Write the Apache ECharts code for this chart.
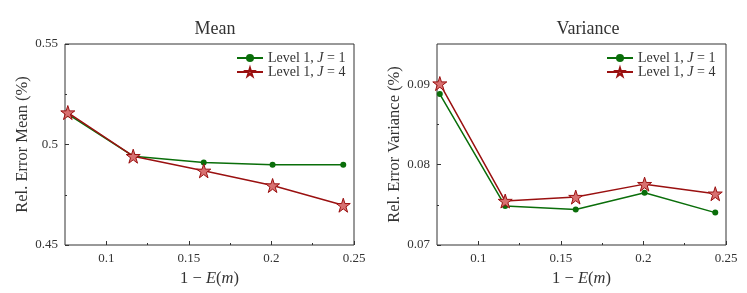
<!DOCTYPE html>
<html><head><meta charset="utf-8">
<script src="https://cdn.jsdelivr.net/npm/echarts@6/dist/echarts.min.js"></script>
<style>html,body{margin:0;padding:0;background:#fff}#c{width:747px;height:293px}</style>
</head><body><div id="c"></div>
<script>
const xVals = [0.0767, 0.1163, 0.159, 0.2007, 0.2435];
const meanJ1 = [0.5151, 0.4942, 0.4910, 0.4899, 0.4899];
const meanJ4 = [0.5159, 0.4942, 0.4869, 0.4796, 0.4698];
const varJ1 = [0.08877, 0.07485, 0.07441, 0.07650, 0.07403];
const varJ4 = [0.09008, 0.07547, 0.07596, 0.07757, 0.07638];
const xTicks = [0.1, 0.15, 0.2, 0.25];
const xMinor = [0.125, 0.175, 0.225];
const meanTicks = [0.45, 0.5, 0.55];
const meanMinor = [0.475, 0.525];
const varTicks = [0.07, 0.08, 0.09];
const varMinor = [0.075, 0.085];
const titles = ['Mean', 'Variance'];
const yNames = ['Rel. Error Mean (%)', 'Rel. Error Variance (%)'];
const nameJ1 = 'Level 1, {i|J} = 1';
const nameJ4 = 'Level 1, {i|J} = 4';

const FONT = 'Liberation Serif';
const GREEN = '#0a6e0a';
const RED = '#9a1010';
const STAR = 'path://M50,0 L61.2,34.5 L97.6,34.5 L68.2,55.9 L79.4,90.5 L50,69.1 L20.6,90.5 L31.8,55.9 L2.4,34.5 L38.8,34.5 Z';
const fmt = v => String(+(+v).toFixed(4));
const rich = {i: {fontStyle: 'italic', fontFamily: FONT, fontSize: 14, color: '#333'}};

const grids = [
  {left: 65, top: 44, width: 289, height: 201},
  {left: 437, top: 44, width: 289, height: 201}
];
const yCfg = [
  {min: 0.45, max: 0.55, ticks: meanTicks, minor: meanMinor},
  {min: 0.07, max: 0.095, ticks: varTicks, minor: varMinor}
];
const xAxis = [], yAxis = [], series = [];
grids.forEach((g, gi) => {
  g.show = true; g.borderColor = '#333'; g.borderWidth = 1;
  xAxis.push({
    type: 'value', gridIndex: gi, min: 0.075, max: 0.25, position: 'bottom',
    axisLine: {show: false},
    splitLine: {show: false},
    axisTick: {show: true, inside: true, length: 4, customValues: xTicks, lineStyle: {color: '#333'}},
    axisLabel: {customValues: xTicks, formatter: fmt, fontFamily: FONT, fontSize: 13, color: '#333', margin: 7},
    name: '{n|1 − }{i|E}{n|(}{i|m}{n|)}', nameLocation: 'middle', nameGap: 21,
    nameTextStyle: {rich: {n: {fontFamily: FONT, fontSize: 16.5, color: '#333'}, i: {fontFamily: FONT, fontStyle: 'italic', fontSize: 16.5, color: '#333'}}}
  });
  xAxis.push({
    type: 'value', gridIndex: gi, min: 0.075, max: 0.25, position: 'bottom',
    axisLine: {show: false}, splitLine: {show: false},
    axisTick: {show: true, inside: true, length: 2, customValues: xMinor, lineStyle: {color: '#333'}},
    axisLabel: {show: false}
  });
  const yc = yCfg[gi];
  yAxis.push({
    type: 'value', gridIndex: gi, min: yc.min, max: yc.max, position: 'left',
    axisLine: {show: false}, splitLine: {show: false},
    axisTick: {show: true, inside: true, length: 4, customValues: yc.ticks, lineStyle: {color: '#333'}},
    axisLabel: {customValues: yc.ticks, formatter: fmt, fontFamily: FONT, fontSize: 13, color: '#333', margin: 7},
    name: yNames[gi], nameLocation: 'middle', nameGap: 34,
    nameTextStyle: {fontFamily: FONT, fontSize: 16.5, color: '#333'}
  });
  yAxis.push({
    type: 'value', gridIndex: gi, min: yc.min, max: yc.max, position: 'left',
    axisLine: {show: false}, splitLine: {show: false},
    axisTick: {show: true, inside: true, length: 2, customValues: yc.minor, lineStyle: {color: '#333'}},
    axisLabel: {show: false}
  });
  const d1 = gi === 0 ? meanJ1 : varJ1;
  const d4 = gi === 0 ? meanJ4 : varJ4;
  series.push({
    type: 'line', name: nameJ1, xAxisIndex: gi * 2, yAxisIndex: gi * 2,
    data: xVals.map((x, i) => [x, d1[i]]),
    symbol: 'circle', symbolSize: 6, lineStyle: {color: GREEN, width: 1.5},
    itemStyle: {color: GREEN}, z: 3
  });
  series.push({
    type: 'line', name: nameJ4, xAxisIndex: gi * 2, yAxisIndex: gi * 2,
    data: xVals.map((x, i) => [x, d4[i]]),
    symbol: STAR, symbolSize: 14, lineStyle: {color: RED, width: 1.5},
    itemStyle: {color: '#d87070', borderColor: RED, borderWidth: 1}, z: 4
  });
});

const legendBase = {
  orient: 'vertical', itemWidth: 26, itemHeight: 10, itemGap: 0,
  data: [nameJ1, nameJ4], selectedMode: false,
  textStyle: {fontFamily: FONT, fontSize: 14, color: '#333', rich: rich}
};
const chart = echarts.init(document.getElementById('c'), null, {renderer: 'canvas'});
chart.setOption({
  animation: false,
  backgroundColor: '#fff',
  title: [
    {text: titles[0], left: 210, top: 15, textAlign: 'center', textStyle: {fontFamily: FONT, fontSize: 18, fontWeight: 'normal', color: '#333'}},
    {text: titles[1], left: 583, top: 15, textAlign: 'center', textStyle: {fontFamily: FONT, fontSize: 18, fontWeight: 'normal', color: '#333'}}
  ],
  legend: [
    Object.assign({}, legendBase, {left: 231, top: 46}),
    Object.assign({}, legendBase, {left: 601, top: 46})
  ],
  grid: grids, xAxis: xAxis, yAxis: yAxis, series: series
});
</script></body></html>
